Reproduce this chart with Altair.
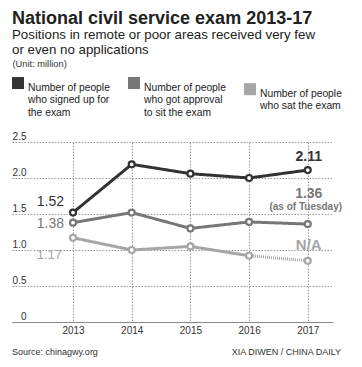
import altair as alt
import pandas as pd

# ---- data ----
years = [2013, 2014, 2015, 2016, 2017]
signed_up = [1.52, 2.19, 2.06, 2.00, 2.11]
approved = [1.38, 1.52, 1.30, 1.39, 1.36]
sat_exam = [1.17, 1.00, 1.05, 0.92, 0.85]
series_names = [
    "Number of people|who signed up for|the exam",
    "Number of people|who got approval|to sit the exam",
    "Number of people|who sat the exam",
]
y_ticks = [0, 0.5, 1.0, 1.5, 2.0, 2.5]
y_tick_labels = ["0", "0.5", "1.0", "1.5", "2.0", "2.5"]

ann_text = ["1.52", "1.38", "1.17", "2.11", "1.36", "(as of Tuesday)", "N/A"]
ann_year = [2013, 2013, 2013, 2017, 2017, 2017, 2017]
ann_value = [1.52, 1.38, 1.17, 2.11, 1.36, 1.36, 0.85]

source_text = "Source: chinagwy.org"
credit_text = "XIA DIWEN / CHINA DAILY"
title_text = "National civil service exam 2013-17"
subtitle_text = ["Positions in remote or poor areas received very few", "or even no applications"]
unit_text = "(Unit: million)"

# ---- styling ----
FONT = "Liberation Sans"
colors = ["#333333", "#777777", "#a6a6a6"]

line_rows = []
point_rows = []
for name, vals in zip(series_names, [signed_up, approved, sat_exam]):
    for yr, v in zip(years, vals):
        point_rows.append({"series": name, "year": yr, "value": v})
        if name == series_names[2]:
            if yr <= 2016:
                line_rows.append({"series": name, "year": yr, "value": v, "seg": "solid"})
            if yr >= 2016:
                line_rows.append({"series": name, "year": yr, "value": v, "seg": "dotted"})
        else:
            line_rows.append({"series": name, "year": yr, "value": v, "seg": "solid"})
line_df = pd.DataFrame(line_rows)
point_df = pd.DataFrame(point_rows)

label_expr = "[" + ",".join("'%s'" % s for s in y_tick_labels) + "][indexof([" + \
    ",".join(str(t) for t in y_ticks) + "], datum.value)]"

x_scale = alt.Scale(domain=[2011.96, 2017.43], nice=False, zero=False)
y_scale = alt.Scale(domain=[0, 2.5], nice=False, zero=True)

x_axis = alt.Axis(
    values=years, format="d", title=None, tickSize=0, labelPadding=3,
    labelFontSize=10, labelColor="#333", labelFont=FONT, labelFlush=False,
    domainColor="#888", domainWidth=1, grid=True, gridColor="#999",
    gridDash=[1.5, 1.5], gridWidth=1)
y_axis = alt.Axis(
    values=y_ticks, tickCount=6, labelExpr=label_expr, labelOverlap=False,
    title=unit_text, titleAngle=0,
    titleAlign="left", titleBaseline="alphabetic", titleX=0, titleY=-76,
    titleFont=FONT, titleFontSize=9.3, titleFontWeight="normal", titleColor="#333",
    tickSize=0, domain=False, labelAlign="right", labelPadding=-14,
    labelBaseline="alphabetic", labelOffset=-3, labelFont=FONT, labelFontSize=10,
    labelColor="#333", grid=True, gridColor="#999", gridDash=[1.5, 1.5], gridWidth=1)

def xe():
    return alt.X("year:Q", scale=x_scale, axis=x_axis)

def ye():
    return alt.Y("value:Q", scale=y_scale, axis=y_axis)

legend = alt.Legend(
    title=None, orient="none", legendX=0, legendY=-65, direction="horizontal",
    columns=3, columnPadding=9, gridAlign="all", symbolType="square",
    symbolSize=36, symbolStrokeWidth=6, symbolOpacity=1,
    labelExpr="split(datum.label, '|')", labelFont=FONT, labelFontSize=10.3,
    labelColor="#222", labelBaseline="top", labelOffset=4, labelLimit=300)

color_enc = alt.Color("series:N", scale=alt.Scale(domain=series_names, range=colors),
                      legend=legend)

lines = alt.Chart(line_df).mark_line(strokeWidth=3).encode(
    x=xe(), y=ye(), color=color_enc,
    strokeDash=alt.StrokeDash("seg:N", scale=alt.Scale(domain=["solid", "dotted"],
                              range=[[1, 0], [1, 1]]), legend=None),
    detail="seg:N",
)

points = alt.Chart(point_df).mark_point(
    filled=False, fill="white", shape="circle", size=36, strokeWidth=2.2, opacity=1
).encode(x=xe(), y=ye(), color=color_enc)

ann_df = pd.DataFrame({"text": ann_text, "year": ann_year, "value": ann_value})
ann_styles = [
    dict(align="right", dx=-9, dy=-6.5, fontSize=14, fontWeight="normal", color=colors[0]),
    dict(align="right", dx=-9, dy=5, fontSize=14, fontWeight="normal", color=colors[1]),
    dict(align="right", dx=-11, dy=21, fontSize=13, fontWeight="normal", color=colors[2]),
    dict(align="center", dx=1, dy=-9, fontSize=14, fontWeight="bold", color=colors[0]),
    dict(align="center", dx=1, dy=-26, fontSize=14, fontWeight="bold", color=colors[1]),
    dict(align="center", dx=-2, dy=-14, fontSize=10, fontWeight="bold", color=colors[1]),
    dict(align="center", dx=1, dy=-10.5, fontSize=15, fontWeight="bold", color=colors[2]),
]
ann_layers = []
for i, st in enumerate(ann_styles):
    ann_layers.append(
        alt.Chart(ann_df.iloc[[i]]).mark_text(baseline="alphabetic", font=FONT, **st).encode(
            x=xe(), y=ye(), text="text:N")
    )

footer_df = pd.DataFrame({"t": [source_text, credit_text]})
source = alt.Chart(footer_df.iloc[[0]]).mark_text(
    align="left", baseline="alphabetic", font=FONT, fontSize=9, color="#333"
).encode(x=alt.value(0), y=alt.value(213), text="t:N")
credit = alt.Chart(footer_df.iloc[[1]]).mark_text(
    align="right", baseline="alphabetic", font=FONT, fontSize=9, color="#333"
).encode(x=alt.value(329), y=alt.value(213), text="t:N")

chart = alt.layer(lines, points, *ann_layers, source, credit).properties(
    width=321, height=180,
    padding={"left": 4, "top": 134, "right": 18, "bottom": 36},
    autosize="none",
    title=alt.Title(
        text=title_text, subtitle=subtitle_text, anchor="start", frame="group",
        offset=3, font=FONT, fontSize=18, fontWeight="bold", color="#222",
        subtitleFont=FONT, subtitleFontSize=13.3, subtitleColor="#222",
        subtitleLineHeight=15, subtitlePadding=0),
).configure_view(stroke=None)

chart.save("out.html", embed_options={"renderer": "svg", "actions": False})
